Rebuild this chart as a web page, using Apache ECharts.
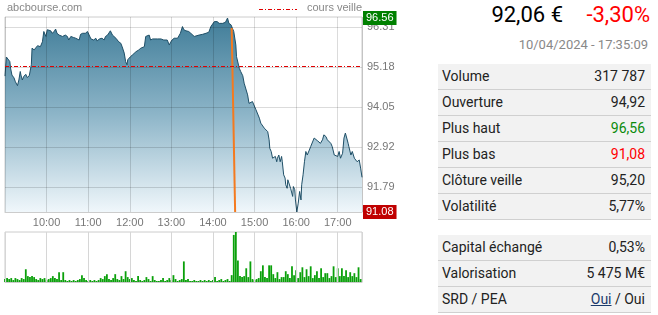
<!DOCTYPE html>
<html><head><meta charset="utf-8">
<script src="https://cdn.jsdelivr.net/npm/echarts@6/dist/echarts.min.js"></script>
<style>
html,body{margin:0;padding:0;background:#fff;width:658px;height:315px;overflow:hidden;}
#chart{position:absolute;left:0;top:0;width:430px;height:315px;}
#panel{position:absolute;left:430px;top:0;width:228px;height:315px;font-family:Roboto,sans-serif;color:#222;}
.big{position:absolute;top:2px;font-size:22px;line-height:26px;white-space:nowrap;}
#last{right:95px;color:#000;}
#pct{right:8px;color:#ff0000;}
#date{position:absolute;right:10px;top:37px;font-size:13px;line-height:16px;color:#888;white-space:nowrap;}
table{position:absolute;left:8px;width:213px;border-collapse:collapse;font-size:14px;}
td{height:25px;line-height:25px;padding:0;background:#f2f2f2;border-bottom:1px solid #d0d0d0;white-space:nowrap;}
td.l{padding-left:4px;}
td.r{text-align:right;padding-right:6px;}
#t1{top:64px;}
#t2{top:235px;}
a{color:#1b3a6b;text-decoration:underline;}
</style></head>
<body>
<div id="chart"></div>
<div id="panel">
  <div class="big" id="last">92,06 €</div>
  <div class="big" id="pct">-3,30%</div>
  <div id="date">10/04/2024 - 17:35:09</div>
  <table id="t1">
    <tr><td class="l">Volume</td><td class="r">317 787</td></tr>
    <tr><td class="l">Ouverture</td><td class="r">94,92</td></tr>
    <tr><td class="l">Plus haut</td><td class="r" style="color:#0b8a0b">96,56</td></tr>
    <tr><td class="l">Plus bas</td><td class="r" style="color:#ff0000">91,08</td></tr>
    <tr><td class="l">Clôture veille</td><td class="r">95,20</td></tr>
    <tr><td class="l">Volatilité</td><td class="r">5,77%</td></tr>
  </table>
  <table id="t2">
    <tr><td class="l">Capital échangé</td><td class="r">0,53%</td></tr>
    <tr><td class="l">Valorisation</td><td class="r">5 475 M€</td></tr>
    <tr><td class="l">SRD / PEA</td><td class="r"><a>Oui</a> / Oui</td></tr>
  </table>
</div>
<script>
const priceTimes = ["09:00","09:02","09:04","09:07","09:08","09:10","09:13","09:15","09:18","09:20","09:22","09:23","09:25","09:27","09:30","09:32","09:35","09:36","09:38","09:39","09:42","09:44","09:47","09:49","09:51","09:54","09:56","09:59",
"10:01","10:03","10:06","10:08","10:11","10:13","10:15","10:18","10:20","10:23","10:25","10:27","10:30","10:32","10:35","10:37","10:39","10:42","10:44","10:47","10:49","10:52","10:54","10:56","10:59",
"11:01","11:04","11:06","11:08","11:11","11:13","11:16","11:18","11:20","11:23","11:25","11:28","11:30","11:32","11:35","11:37","11:40","11:42","11:44","11:47","11:49","11:52","11:54","11:56","11:57","11:59",
"12:01","12:04","12:06","12:09","12:11","12:13","12:16","12:18","12:21","12:23","12:25","12:28","12:30","12:33","12:35","12:40","12:45","12:49","12:54","12:57","12:59",
"13:01","13:04","13:09","13:11","13:13","13:16","13:18","13:21","13:23","13:25","13:28","13:30","13:33","13:35","13:40","13:45","13:50","13:52","13:54","13:57","13:59",
"14:02","14:04","14:06","14:09","14:11","14:14","14:16","14:18","14:21","14:23","14:26","14:28","14:30","14:33","14:34","14:36","14:38","14:40","14:43","14:45","14:47","14:50","14:52","14:54","14:57","14:59",
"15:02","15:04","15:07","15:09","15:11","15:14","15:16","15:19","15:21","15:22","15:24","15:26","15:28","15:30","15:32","15:33","15:35","15:37","15:39","15:40","15:42","15:44","15:45","15:47","15:48","15:50","15:52","15:55","15:56","15:58","15:59",
"16:01","16:03","16:05","16:07","16:08","16:10","16:12","16:14","16:16","16:19","16:21","16:23","16:26","16:28","16:31","16:33","16:35","16:38","16:40","16:43","16:45","16:47","16:50","16:52","16:55","16:57",
"17:00","17:02","17:04","17:07","17:09","17:11","17:13","17:15","17:16","17:19","17:21","17:24","17:26","17:28","17:31","17:33","17:35"];
const prices = [94.92,95.46,95.43,95.33,95.15,94.95,94.87,94.76,94.65,94.81,95.05,94.95,94.81,94.91,94.97,94.88,94.93,94.88,95.24,95.71,95.66,95.71,95.78,95.73,95.75,95.89,96.18,96.04,
96.23,96.18,96.20,96.13,96.18,96.25,96.13,96.08,96.13,96.04,95.99,96.08,96.04,95.94,96.04,95.99,96.01,95.99,96.04,95.94,96.10,96.13,96.16,96.13,96.18,
96.13,95.97,95.99,95.94,95.99,95.91,95.97,95.94,95.99,95.94,96.04,96.08,96.13,96.20,96.08,96.04,95.99,95.94,95.89,95.85,95.75,95.57,95.33,95.24,95.38,95.33,
95.47,95.52,95.47,95.61,95.57,95.66,95.71,95.71,95.75,96.04,95.99,96.08,95.94,95.97,95.99,95.97,95.97,95.94,95.94,95.80,95.88,
95.94,95.99,95.99,96.04,96.13,96.32,96.23,96.20,96.18,96.18,96.13,96.13,96.04,96.04,96.08,96.10,96.13,96.18,96.16,96.32,96.37,
96.46,96.41,96.46,96.41,96.46,96.41,96.46,96.44,96.56,96.41,96.37,96.32,96.18,95.80,95.47,95.52,95.14,95.05,94.93,94.72,94.67,94.39,94.15,94.11,94.20,94.15,
93.97,93.92,93.73,93.59,93.54,93.45,93.49,93.35,93.12,92.88,92.79,92.60,92.55,92.65,92.50,92.60,92.69,92.50,92.65,92.50,92.13,92.04,91.85,91.75,91.99,92.04,91.75,91.52,91.80,91.71,91.42,
91.08,91.33,91.66,91.42,91.85,92.13,92.50,92.79,92.69,92.83,92.93,92.93,93.17,93.12,93.09,93.12,93.02,93.12,93.26,93.21,93.12,93.12,93.02,92.93,92.69,92.74,
92.65,92.79,92.60,92.74,93.17,93.31,93.17,93.02,92.93,92.69,92.79,92.60,92.65,92.50,92.55,92.32,92.06];

const volTimes = ["09:00","09:03","09:06","09:09","09:12","09:15","09:18","09:21","09:24","09:27","09:30","09:33","09:36","09:39","09:42","09:45","09:48","09:51","09:54","09:57",
"10:00","10:03","10:06","10:09","10:12","10:15","10:18","10:21","10:24","10:27","10:30","10:33","10:36","10:39","10:42","10:45","10:48","10:51","10:54","10:57",
"11:00","11:03","11:06","11:09","11:12","11:15","11:18","11:21","11:24","11:27","11:30","11:33","11:36","11:39","11:42","11:45","11:48","11:51","11:54","11:57",
"12:00","12:03","12:06","12:09","12:12","12:15","12:18","12:21","12:24","12:27","12:30","12:33","12:36","12:39","12:42","12:45","12:48","12:51","12:54","12:57",
"13:00","13:03","13:06","13:09","13:12","13:15","13:18","13:21","13:24","13:27","13:30","13:33","13:36","13:39","13:42","13:45","13:48","13:51","13:54","13:57",
"14:00","14:03","14:06","14:09","14:12","14:15","14:18","14:21","14:24","14:27","14:30","14:33","14:36","14:39","14:42","14:45","14:48","14:51","14:54","14:57",
"15:00","15:03","15:06","15:09","15:12","15:15","15:18","15:21","15:24","15:27","15:30","15:33","15:36","15:39","15:42","15:45","15:48","15:51","15:54","15:57",
"16:00","16:03","16:06","16:09","16:12","16:15","16:18","16:21","16:24","16:27","16:30","16:33","16:36","16:39","16:42","16:45","16:48","16:51","16:54","16:57",
"17:00","17:03","17:06","17:09","17:12","17:15","17:18","17:21","17:24","17:27","17:30","17:33"];
const volumes = [1200,1600,1200,1600,800,1600,1200,800,1600,1200,5200,2400,2000,2400,2000,1200,800,1600,1200,1600,
800,1200,1600,2400,1600,1200,4000,800,4000,800,400,800,400,800,400,800,1200,2800,1600,800,
400,800,400,800,400,800,1600,1200,2400,3200,1200,800,1600,3200,1200,800,2400,1200,4400,2000,
1200,1600,800,400,2400,800,400,800,2000,1200,400,2400,800,400,400,800,1600,400,800,1600,
800,2800,1200,400,800,1200,8400,800,1200,400,400,800,400,400,800,400,800,400,800,400,
800,2000,400,800,1200,400,800,1200,400,2800,19200,20400,8800,2400,2000,2400,5600,2000,8400,1200,
800,1200,1600,4400,6800,2000,1600,6800,6800,3200,1600,4000,1200,2000,2000,4400,3200,1600,6400,2800,
4800,1600,4000,6000,2000,5200,2400,6400,1600,2800,4400,1600,5600,2000,3600,3600,1600,2400,6400,2000,
5600,2400,5600,2400,4800,2000,4000,2400,3600,2000,6000,1200];

const prevClose = 95.20;
const dayHigh = 96.56;
const dayLow = 91.08;
const yTickValues = [91.79, 92.92, 94.05, 95.18, 96.31];
const hourLabels = ["10:00","11:00","12:00","13:00","14:00","15:00","16:00","17:00"];
const newsTimes = ["14:27","14:32"];
const newsPrices = [96.28, 91.08];

function toMin(s){const p=s.split(':').map(Number);return (p[0]-9)*60+p[1];}

const FONT = 'Liberation Sans, Arial, sans-serif';
const chart = echarts.init(document.getElementById('chart'), null, {renderer:'canvas'});
const xCommon = {
  type:'value', min:0, max:515, interval:60,
  axisTick:{show:false},
  axisLine:{show:true, lineStyle:{color:'#cccccc'}},
};
const boxLabel = function(val, bg){
  return {show:true, position:'end', distance:1, formatter:val.toFixed(2),
    backgroundColor:bg, color:'#fff', padding:[2,3,1,3], fontSize:11, fontFamily:FONT};
};
chart.setOption({
  animation:false,
  textStyle:{fontFamily:FONT},
  grid:[
    {left:5, top:17, width:357, height:195, show:true, borderColor:'#cccccc', borderWidth:1, backgroundColor:'#fff'},
    {left:5, top:232, width:357, height:50, show:true, borderColor:'#cccccc', borderWidth:1}
  ],
  xAxis:[
    Object.assign({}, xCommon, {gridIndex:0, z:3,
      splitLine:{show:true, lineStyle:{color:'rgba(0,0,0,0.14)'}},
      axisLabel:{show:true, margin:5, fontSize:11, color:'#777', fontFamily:FONT,
        formatter:function(v){ return (v>0 && v%60===0) ? hourLabels[v/60-1] : ''; }}
    }),
    Object.assign({}, xCommon, {gridIndex:1, z:3,
      splitLine:{show:true, lineStyle:{color:'#d6d6d6'}},
      axisLabel:{show:false}
    })
  ],
  yAxis:[
    {type:'value', gridIndex:0, position:'right', min:91.08, max:96.59, z:3,
      axisLine:{show:false},
      axisTick:{show:false, customValues:yTickValues},
      splitLine:{show:true, lineStyle:{color:'rgba(0,0,0,0.14)'}},
      axisLabel:{show:true, margin:5, fontSize:11, color:'#777', fontFamily:FONT, customValues:yTickValues,
        formatter:function(v){return v.toFixed(2);}}
    },
    {type:'value', gridIndex:1, min:0, max:20400, show:false, splitLine:{show:false}}
  ],
  series:[
    {
      type:'line', xAxisIndex:0, yAxisIndex:0, z:2,
      data: priceTimes.map(function(t,i){return [toMin(t), prices[i]];}),
      symbol:'none', smooth:false,
      lineStyle:{color:'#1f4f67', width:1},
      areaStyle:{color:new echarts.graphic.LinearGradient(0,17,0,212,[
        {offset:0,color:'#3f7c98'},{offset:0.5,color:'#8db5c8'},{offset:1,color:'#f0f7fb'}],true), opacity:1}
    },
    {
      type:'line', xAxisIndex:0, yAxisIndex:0, z:4,
      data: newsTimes.map(function(t,i){return [toMin(t), newsPrices[i]];}),
      symbol:'none', lineStyle:{color:'#f47a1f', width:2},
      markLine:{
        silent:true, symbol:['none','none'], animation:false,
        data:[
          {yAxis:prevClose, lineStyle:{color:'#e00000', type:[4,2,1,2], width:1}, label:{show:false}},
          {yAxis:dayHigh, lineStyle:{color:'rgba(0,0,0,0)', width:1}, label:boxLabel(dayHigh,'#008000')},
          {yAxis:dayLow, lineStyle:{color:'rgba(0,0,0,0)', width:1}, label:boxLabel(dayLow,'#c00000')}
        ]
      }
    },
    {
      type:'bar', xAxisIndex:1, yAxisIndex:1, z:2,
      data: volTimes.map(function(t,i){return [toMin(t), volumes[i]];}),
      barWidth:1.8, itemStyle:{color:'#0aa00a'}
    }
  ],
  graphic:[
    {type:'text', left:7, top:2, style:{text:'abcbourse.com', fill:'#888', font:'11px '+FONT}},
    {type:'line', shape:{x1:259, y1:9.5, x2:297, y2:9.5}, style:{stroke:'#e00000', lineWidth:1, lineDash:[4,2,1,2]}},
    {type:'text', left:307, top:2, style:{text:'cours veille', fill:'#888', font:'11px '+FONT}}
  ]
});
</script>
</body></html>
